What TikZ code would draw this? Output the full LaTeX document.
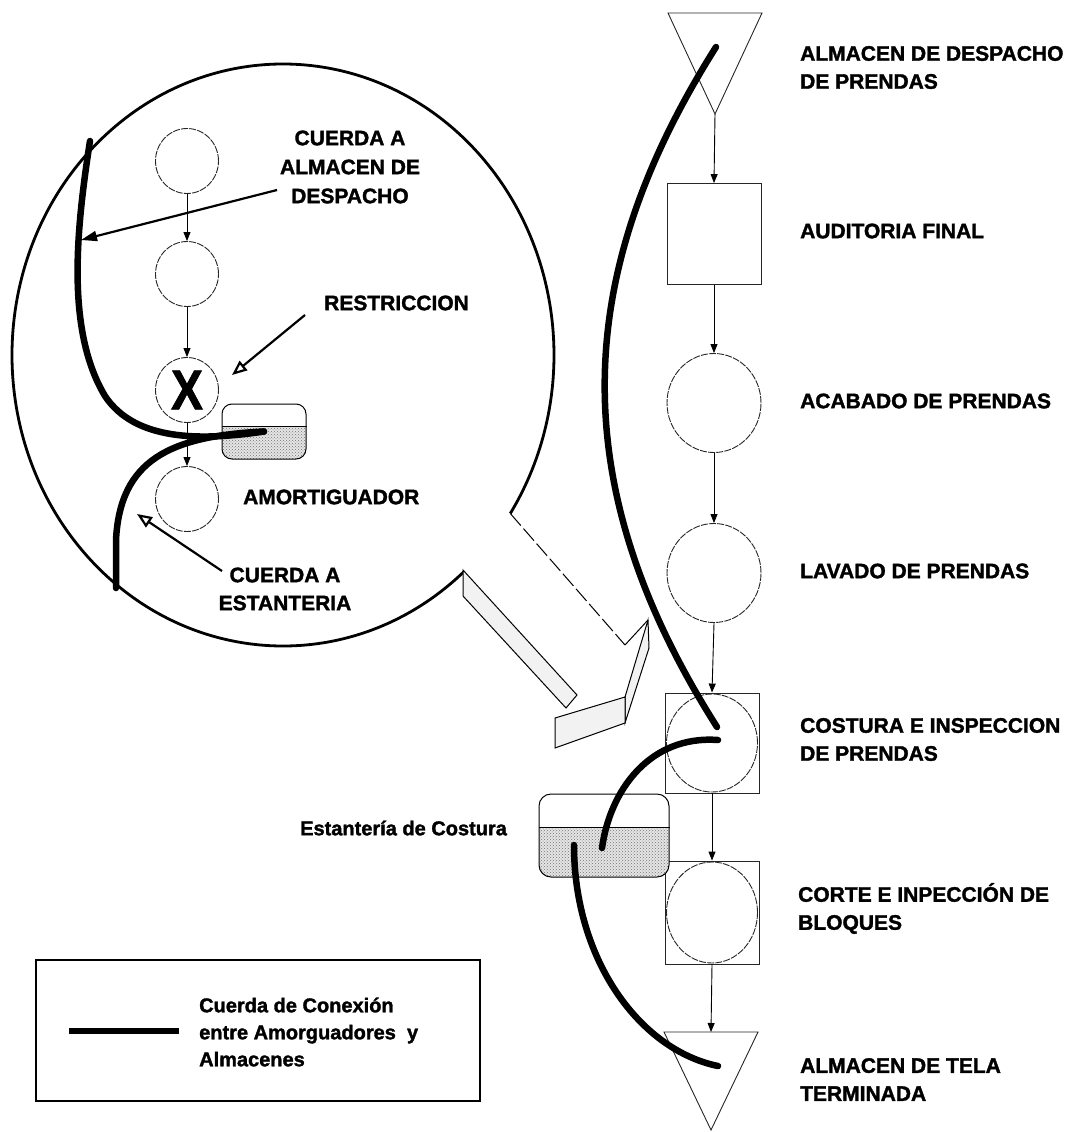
\documentclass[tikz,border=0pt]{standalone}
\usepackage{graphicx}
\usepackage{fontspec}
\setmainfont{Liberation Sans}[BoldFeatures={FakeBold=1.6}]
\usetikzlibrary{arrows.meta,patterns,shapes.geometric}
\newcommand{\tallX}{\scalebox{0.85}[1]{\fontsize{56}{56}\selectfont\bfseries X}}
\begin{document}
\begin{tikzpicture}[x=1pt,y=-1pt,
  outline/.style={line width=0.9pt, black!85},
  flow/.style={line width=0.9pt, -{Triangle[length=9pt,width=7pt]}},
  proc/.style={ellipse, draw=black!85, line width=0.9pt, dash pattern=on 7pt off 1.2pt, inner sep=0pt},
  boxproc/.style={rectangle, draw=black!85, line width=0.9pt, inner sep=0pt, minimum width=94, minimum height=101},
  rope/.style={line width=6.5pt, line cap=round},
  stagelbl/.style={anchor=west, align=left, font=\fontsize{21}{28}\selectfont\bfseries, inner sep=0pt},
  notelbl/.style={align=center, font=\fontsize{21}{29}\selectfont\bfseries, inner sep=0pt},
  pointer/.style={line width=2.2pt, -{Triangle[length=16pt,width=10pt]}},
  hollow/.style={line width=2.2pt, -{Triangle[open,length=15pt,width=12pt]}},
  bufbox/.style={draw, line width=1pt, rounded corners=10pt, inner sep=0pt},
  stock/.style={black!10},
  grain/.style={pattern=crosshatch dots, pattern color=black!55},
  handle/.style={draw, line width=1pt, fill=black!5},
]
\useasboundingbox (0,0) rectangle (1081,1132);

% ---------------- production line (right) ----------------
\coordinate (dTL) at (668,13);
\coordinate (dTR) at (762,13);
\coordinate (dTip) at (715,114);
\draw[outline] (dTL) -- (dTR) -- (dTip) -- cycle;

\node[boxproc] (audit) at (714,234) {};
\node[proc, minimum width=94, minimum height=99] (acab) at (714,403) {};
\node[proc, minimum width=94, minimum height=99] (lav) at (714,573) {};
\node[boxproc, minimum height=100] (costsq) at (712,743) {};
\node[proc, minimum width=91, minimum height=98] (cost) at (712,743) {};
\node[boxproc, minimum height=103] (cortsq) at (712,912.5) {};
\node[proc, minimum width=91, minimum height=101] (cort) at (712,912.5) {};

\coordinate (tBL) at (664,1032);
\coordinate (tBR) at (758,1032);
\coordinate (tTip) at (711,1130);
\coordinate (tTop) at (711,1032);
\draw[outline] (tBL) -- (tBR) -- (tTip) -- cycle;

\draw[flow] (dTip) -- (audit.north);
\draw[flow] (audit.south) -- (acab.north);
\draw[flow] (acab.south) -- (lav.north);
\draw[flow] (lav.south) -- (costsq.north);
\draw[flow] (costsq.south) -- (cortsq.north);
\draw[flow] (cortsq.south) -- (tTop);

\node[stagelbl] (l1) at (800,67.5) {ALMACEN DE DESPACHO\\DE PRENDAS};
\node[stagelbl] (l2) at (800,231) {AUDITORIA FINAL};
\node[stagelbl] (l3) at (800,401) {ACABADO DE PRENDAS};
\node[stagelbl] (l4) at (800,571) {LAVADO DE PRENDAS};
\node[stagelbl] (l5) at (800,739.5) {COSTURA E INSPECCION\\DE PRENDAS};
\node[stagelbl] (l6) at (798,908.5) {CORTE E INPECCIÓN DE\\BLOQUES};
\node[stagelbl] (l7) at (800,1079.5) {ALMACEN DE TELA\\TERMINADA};

% ---------------- sewing shelf buffer ----------------
\begin{scope}
  \clip[rounded corners=12pt] (539,794) rectangle (669,877);
  \fill[stock] (539,827) rectangle (669,877);
  \fill[grain] (539,827) rectangle (669,877);
\end{scope}
\node[bufbox, rounded corners=12pt, minimum width=130, minimum height=83] (estant) at (604,835.5) {};
\draw[line width=0.9pt] (estant.west |- 0,827) -- (estant.east |- 0,827);
\node[anchor=west, font=\fontsize{20}{24}\selectfont\bfseries, inner sep=0pt] (estlbl) at (300,828) {Estantería de Costura};

% ---------------- ropes on the production line ----------------
\coordinate (rA) at (716,47);
\coordinate (rB) at (717,727);
\draw[rope] (rA) .. controls (575,270) and (560,480) .. (rB);
\coordinate (rC) at (718,740);
\coordinate (rD) at (602,848);
\draw[rope] (rC) .. controls (650,735) and (610,790) .. (rD);
\coordinate (rE) at (574,845);
\coordinate (rF) at (718,1066);
\draw[rope] (rE) .. controls (574,960) and (640,1050) .. (rF);

% ---------------- magnifier ----------------
\coordinate (mag) at (283,355);
\draw[line width=2.8pt] (mag) ++(48:271 and 291) arc[start angle=48, end angle=393, x radius=271, y radius=291];

% handle
\coordinate (hU) at (510.3,513.5);
\coordinate (hV) at (625,645);
\coordinate (hW) at (648,620);
\draw[line width=1pt, dash pattern=on 16pt off 4pt] (hU) -- (hV);
\draw[line width=1pt] (hV) -- (hW);
\draw[handle] (463,570) -- (577,695) -- (566,708) -- (463,596) -- cycle;
\draw[handle] (hW) -- (649,648) -- (625,723) -- (625,697) -- cycle;
\draw[handle] (555,718) -- (625,697) -- (625,723) -- (555,748) -- cycle;

% process chain inside the lens
\node[proc, minimum width=63, minimum height=65] (m1) at (187,161) {};
\node[proc, minimum width=63, minimum height=65] (m2) at (187,274) {};
\node[proc, minimum width=63, minimum height=65] (mx) at (187,390) {\tallX};
\node[proc, minimum width=63, minimum height=65] (m4) at (187,499) {};
\draw[flow] (m1.south) -- (m2.north);
\draw[flow] (m2.south) -- (mx.north);
\draw[flow] (mx.south) -- (m4.north);

% buffer in front of the constraint
\begin{scope}
  \clip[rounded corners=10pt] (222,404) rectangle (306,459);
  \fill[stock] (222,426) rectangle (306,459);
  \fill[grain] (222,426) rectangle (306,459);
\end{scope}
\node[bufbox, minimum width=84, minimum height=55] (amort) at (264,431.5) {};
\draw[line width=0.9pt] (amort.west |- 0,426) -- (amort.east |- 0,426);

% ropes inside the lens
\coordinate (r1a) at (90,141);
\draw[rope] (r1a) .. controls (76,231) and (66,331) .. (105,396)
               .. controls (135,441) and (200,441) .. (amort.center);
\coordinate (r2b) at (116,588);
\draw[rope] (amort.center) .. controls (170,436) and (120,460) .. (116,540) -- (r2b);

% callouts
\node[notelbl] (cad) at (350,167) {CUERDA A\\ALMACEN DE\\DESPACHO};
\node[stagelbl] (restr) at (324,303) {RESTRICCION};
\node[stagelbl] (amlbl) at (243,497) {AMORTIGUADOR};
\node[notelbl, font=\fontsize{21}{28}\selectfont\bfseries] (cest) at (285,589) {CUERDA A\\ESTANTERIA};

\coordinate (p1s) at (277,190);
\coordinate (p1e) at (81,240);
\draw[pointer] (p1s) -- (p1e);
\coordinate (p2s) at (305,315);
\coordinate (p2e) at (232,375);
\draw[hollow] (p2s) -- (p2e);
\coordinate (p3s) at (222,571);
\coordinate (p3e) at (137,514);
\draw[hollow] (p3s) -- (p3e);

% ---------------- legend ----------------
\node[draw, line width=2.6pt, minimum width=444, minimum height=141, inner sep=0pt] (legend) at (258,1030.5) {};
\coordinate (lgA) at (69,1031);
\coordinate (lgB) at (179,1031);
\draw[rope, line cap=butt] (lgA) -- (lgB);
\node[anchor=west, align=left, font=\fontsize{20}{27}\selectfont\bfseries, inner sep=0pt] (legtxt) at (199,1032) {Cuerda de Conexión\\entre Amorguadores~ y\\Almacenes};
\end{tikzpicture}
\end{document}
